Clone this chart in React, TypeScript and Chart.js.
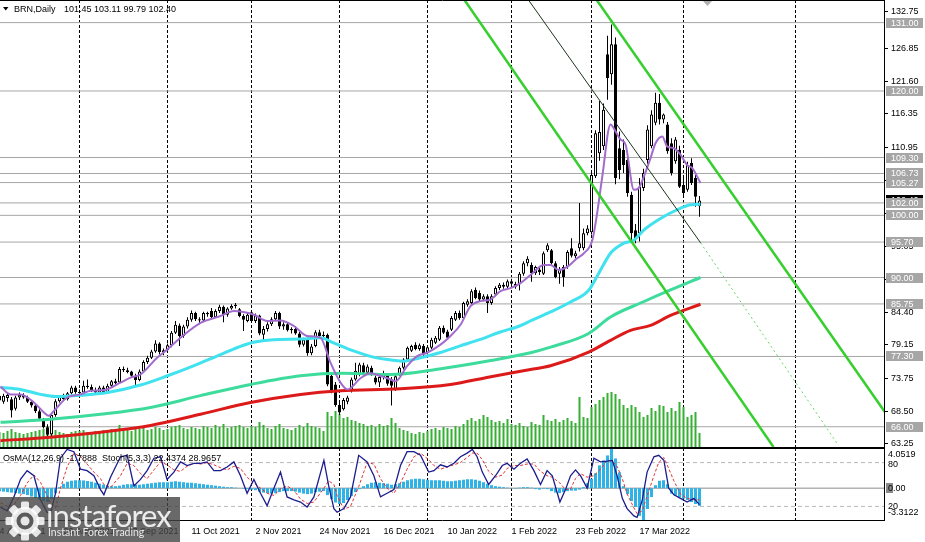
import React, { useEffect, useRef } from 'react';
import { Chart, registerables } from 'chart.js';

Chart.register(...registerables);

const FONT = '"Liberation Sans", Arial, sans-serif';

// ---------------- data ----------------
const symbol = 'BRN,Daily';
const lastQuote = [101.45, 103.11, 99.79, 102.4]; // O H L C of last bar
const firstBarIndex = 1; // bar index of 4 Aug 2021

const opens = [
  71.0, 70.0, 70.6, 70.4, 68.9, 70.7, 71.1, 70.7, 70.0, 69.4,
  68.5, 67.2, 65.9, 64.8, 67.9, 70.1, 70.9, 70.4, 71.4, 72.3,
  71.6, 71.5, 72.6, 72.4, 71.9, 71.5, 72.3, 71.6, 72.6, 73.3,
  73.1, 75.3, 75.1, 74.9, 74.2, 73.5, 74.9, 76.4, 77.1, 78.1,
  79.4, 78.0, 78.3, 79.1, 81.1, 82.3, 80.6, 82.1, 83.2, 84.3,
  83.3, 83.1, 84.3, 84.6, 83.6, 84.6, 85.3, 84.0, 85.0, 85.4,
  84.9, 83.8, 83.0, 84.4, 83.0, 83.9, 80.8, 81.7, 82.5, 83.3,
  84.3, 82.1, 82.5, 81.5, 81.7, 81.0, 79.2, 80.0, 77.8, 79.0,
  81.2, 80.6, 80.8, 74.2, 72.8, 69.5, 68.8, 70.0, 71.8, 73.6,
  74.4, 75.9, 74.7, 75.5, 73.9, 73.1, 74.0, 74.3, 73.6, 72.0,
  74.4, 75.5, 76.8, 78.2, 79.2, 78.5, 79.0, 77.9, 78.7, 79.5,
  80.0, 81.9, 81.3, 81.6, 83.2, 84.3, 83.5, 85.6, 85.9, 88.05,
  87.5, 86.45, 87.0, 85.9, 87.25, 88.3, 88.85, 88.5, 89.4, 89.0,
  88.9, 90.6, 92.3, 92.0, 90.7, 91.3, 90.6, 94.4, 94.4, 92.3,
  90.6, 91.7, 91.7, 94.7, 93.4, 94.7, 94.7, 97.1, 97.3, 106.3,
  110.0, 111.1, 125.9, 122.7, 127.5, 110.8, 110.5, 108.9, 103.3, 97.6,
  97.1, 104.4, 108.9, 111.1, 114.9, 118.1, 115.4, 114.6, 111.6, 108.7,
  110.5, 104.9, 104.1, 108.4, 106.0, 101.45,
];
const highs = [
  71.6, 71.3, 71.4, 70.8, 71.0, 71.5, 71.4, 71.0, 70.3, 69.8,
  68.8, 67.4, 66.4, 68.2, 70.4, 71.1, 71.3, 71.6, 72.6, 72.6,
  72.0, 73.4, 73.6, 72.8, 72.3, 72.6, 72.6, 72.9, 73.5, 73.7,
  75.6, 75.7, 75.5, 75.0, 74.5, 75.2, 76.7, 77.4, 78.4, 79.9,
  79.6, 78.6, 79.4, 81.4, 83.0, 82.6, 82.4, 83.6, 84.7, 84.5,
  83.6, 84.5, 84.5, 85.1, 84.9, 85.6, 85.5, 85.2, 85.7, 85.9,
  85.1, 84.1, 84.3, 84.7, 84.2, 84.0, 82.2, 82.8, 83.6, 84.6,
  84.5, 82.8, 82.7, 82.0, 82.2, 81.3, 80.3, 80.3, 79.3, 81.5,
  81.6, 81.3, 81.0, 74.8, 73.2, 70.0, 70.6, 71.0, 73.9, 76.3,
  76.3, 76.3, 76.0, 75.8, 74.2, 74.3, 75.0, 74.5, 74.0, 74.3,
  75.7, 77.0, 78.9, 79.2, 79.6, 79.4, 79.3, 79.1, 80.3, 80.6,
  82.2, 82.3, 81.6, 83.8, 84.6, 84.7, 86.1, 86.5, 88.1, 88.4,
  87.9, 87.3, 87.3, 87.3, 88.6, 89.1, 89.2, 89.7, 89.8, 89.3,
  90.9, 92.6, 93.4, 92.4, 91.9, 91.6, 94.2, 95.5, 94.6, 92.6,
  91.7, 92.0, 94.4, 96.3, 94.3, 102.0, 97.9, 98.4, 107.0, 113.7,
  118.4, 118.0, 128.9, 130.7, 128.6, 113.5, 112.2, 109.5, 103.8, 98.6,
  106.0, 107.5, 114.5, 116.9, 119.7, 119.5, 116.4, 115.0, 112.4, 112.6,
  111.2, 106.5, 108.6, 109.2, 106.5, 103.11,
];
const lows = [
  69.8, 69.7, 70.0, 67.5, 68.6, 70.3, 70.5, 69.8, 69.1, 68.2,
  67.0, 65.7, 64.3, 64.5, 67.6, 69.9, 70.1, 70.2, 71.2, 71.3,
  70.9, 71.3, 72.1, 71.6, 71.2, 71.2, 71.3, 71.5, 72.4, 72.8,
  72.9, 74.8, 74.6, 73.9, 72.4, 73.3, 74.7, 76.1, 76.9, 77.9,
  77.6, 77.5, 77.9, 78.8, 80.9, 79.0, 80.3, 81.8, 82.9, 83.0,
  82.5, 82.9, 83.7, 83.3, 83.5, 84.3, 82.8, 83.7, 84.8, 85.0,
  83.6, 81.4, 82.8, 82.8, 82.7, 80.7, 79.9, 81.3, 82.2, 83.0,
  81.7, 81.6, 81.3, 81.0, 80.8, 78.8, 78.9, 77.4, 77.5, 78.8,
  80.1, 80.0, 72.5, 71.4, 69.2, 67.9, 68.6, 69.6, 71.5, 73.4,
  74.1, 74.4, 74.5, 74.2, 72.8, 72.4, 73.6, 72.6, 69.4, 71.8,
  74.2, 75.2, 76.6, 78.0, 78.3, 78.2, 77.3, 77.6, 78.5, 79.3,
  79.8, 80.9, 80.0, 81.4, 83.0, 83.2, 83.3, 85.3, 85.7, 86.5,
  86.2, 86.2, 84.3, 85.6, 87.0, 88.0, 88.2, 88.3, 88.5, 88.2,
  87.9, 90.3, 91.8, 89.3, 90.4, 90.4, 90.4, 94.1, 92.1, 89.9,
  89.0, 88.5, 91.4, 93.2, 93.1, 94.2, 94.4, 96.8, 96.9, 106.0,
  108.8, 110.5, 118.6, 121.0, 105.0, 105.8, 106.8, 103.0, 96.0, 95.5,
  95.8, 103.9, 108.3, 110.8, 114.5, 114.6, 114.8, 109.9, 106.4, 108.3,
  104.4, 103.1, 103.8, 104.9, 101.4, 99.79,
];
const closes = [
  70.2, 71.0, 71.1, 68.6, 70.7, 71.1, 70.7, 70.0, 69.4, 68.5,
  67.3, 65.9, 64.7, 67.9, 70.1, 70.9, 70.4, 71.4, 72.3, 71.6,
  71.4, 72.6, 72.4, 71.9, 71.5, 72.3, 71.6, 72.6, 73.3, 73.0,
  75.3, 75.1, 74.8, 74.2, 73.5, 74.9, 76.4, 77.1, 78.1, 79.4,
  78.0, 78.3, 79.1, 81.1, 82.4, 80.6, 82.1, 83.2, 84.3, 83.3,
  83.1, 84.3, 84.1, 83.6, 84.6, 85.3, 84.0, 85.0, 85.4, 85.6,
  83.8, 83.2, 84.0, 83.0, 83.9, 81.0, 81.7, 82.5, 83.3, 84.3,
  82.1, 82.5, 81.5, 81.7, 81.0, 79.2, 80.0, 77.8, 78.9, 81.2,
  80.6, 80.8, 72.8, 71.8, 69.5, 68.3, 70.3, 70.7, 73.6, 75.0,
  76.0, 74.7, 75.7, 74.4, 73.1, 74.0, 74.6, 72.9, 72.6, 74.1,
  75.5, 76.8, 78.7, 79.0, 78.5, 79.1, 77.6, 78.8, 80.0, 80.3,
  81.9, 81.1, 80.3, 83.5, 84.3, 83.5, 85.9, 86.2, 87.8, 86.7,
  86.45, 87.0, 85.9, 87.0, 88.3, 88.85, 88.5, 89.4, 89.0, 88.5,
  90.6, 92.3, 93.0, 90.7, 91.7, 90.9, 93.9, 95.2, 92.3, 90.1,
  91.4, 90.1, 94.1, 93.5, 93.9, 95.5, 97.1, 97.9, 106.5, 113.2,
  113.4, 117.0, 122.1, 127.5, 106.0, 107.3, 108.1, 103.6, 97.1, 96.3,
  104.6, 106.8, 113.8, 116.2, 118.1, 115.4, 116.2, 110.3, 106.8, 112.2,
  104.6, 103.6, 108.1, 105.2, 103.0, 102.4,
];

// tick volume (thousands)
const volumes = [
  16, 15, 17, 19, 16, 15, 14, 15, 16, 17, 18, 19, 22, 21, 18, 16, 15, 14, 16, 17,
  17, 18, 16, 15, 17, 16, 18, 17, 19, 18, 23, 20, 18, 17, 21, 19, 20, 18, 19, 21, 20, 18, 19,
  21, 22, 23, 20, 19, 21, 20, 19, 22, 21, 20, 23, 21, 24, 20, 21, 22, 23, 21, 20, 22,
  21, 26, 23, 20, 19, 22, 24, 20, 19, 18, 20, 23, 21, 25, 22, 21, 20, 17,
  36, 32, 37, 34, 30, 31,
  28, 27, 25, 24, 22, 23, 21, 24, 22, 23, 30, 25, 20, 18, 17, 15, 14, 16, 15, 17,
  19, 20, 18, 21, 20, 19, 22, 21, 24, 28, 30, 27, 29, 33, 31, 28, 26, 27, 25, 29,
  24, 23, 25, 22, 21, 26, 24, 23, 33, 28, 27, 29, 26, 28, 30, 27, 25, 51, 31, 30,
  41, 44, 48, 51, 55, 56, 54, 49, 43, 40, 43, 41, 36, 31, 33, 40, 37, 43, 42, 36, 40, 37, 46, 41, 31, 33, 36, 15,
];

// OsMA(12,26,9) histogram, one value per bar
const osma = [
  -0.3, -0.35, -0.4, -0.45, -0.5, -0.55, -0.6, -0.7, -0.85, -1.0, -1.15, -1.3, -1.4, -1.1,
  -0.5, 0.1, 0.45, 0.65, 0.75, 0.8, 0.8, 0.78, 0.72, 0.65, 0.55, 0.45, 0.35, 0.25, 0.2, 0.2,
  0.25, 0.35, 0.4, 0.4, 0.35, 0.35, 0.4, 0.45, 0.5, 0.55, 0.6, 0.6, 0.6, 0.65, 0.7, 0.65, 0.6, 0.55,
  0.55, 0.5, 0.45, 0.4, 0.35, 0.3, 0.25, 0.2, 0.15, 0.1, 0.1, 0.05,
  0.0, -0.05, -0.1, -0.15, -0.2, -0.35, -0.45, -0.5, -0.55, -0.5, -0.4, -0.3, -0.3, -0.3, -0.35, -0.45, -0.55, -0.6,
  -0.55, -0.4, -0.35, -0.3, -0.7, -1.1, -1.45, -1.6, -1.5, -1.2, -0.8, -0.4,
  -0.1, 0.2, 0.4, 0.55, 0.6, 0.55, 0.5, 0.45, 0.35, 0.4, 0.5, 0.65, 0.8, 0.9, 0.95, 0.95, 0.9, 0.85,
  0.8, 0.8, 0.8, 0.75, 0.7, 0.7, 0.75, 0.8, 0.85, 0.9, 0.9, 0.85, 0.75, 0.6, 0.45, 0.3, 0.2, 0.15,
  0.1, 0.05, 0.02, -0.05, 0.05, 0.1, 0.1, 0.05, -0.1, -0.15, -0.05, -0.1, -0.3, -0.45, -0.5, -0.4, -0.3, -0.25,
  -0.25, -0.15, 0.1, 0.5, 0.95, 1.5, 2.3, 2.8, 3.3, 4.0519, 3.0, 1.6, 0.2, -0.6, -1.3, -1.9, -2.8, -3.3122,
  -2.1, -0.9, 0.3, 0.75, 0.8, 0.4, -0.55, -0.75, -0.92, -1.05, -1.2, -1.4, -1.6, -1.7888,
];

// Stochastic(5,3,3): [bar index, value]
const stochMain: [number, number][] = [
  [1.25, 19], [2.9, 14], [4.6, 33], [6.25, 57], [7.9, 69], [9.6, 62], [11.25, 29], [12.9, 12], [13.75, 10], [15, 38],
  [16.25, 86], [17.9, 98], [19.6, 95], [21.25, 71], [22.9, 69], [24.6, 62], [26.25, 43], [27.1, 36], [28.75, 60], [31.25, 88],
  [32.9, 90], [34.6, 48], [36.25, 57], [37.9, 69], [39.6, 86], [41.25, 88], [42.9, 57], [44.6, 67], [46.25, 81], [47.9, 76],
  [49.6, 79], [51.25, 79], [52.9, 81], [54.6, 69], [56.25, 69], [57.9, 74], [59.6, 81], [61.25, 62], [62.9, 38], [64.6, 57],
  [66.25, 38], [67.9, 21], [69.6, 45], [71.25, 67], [72.9, 33], [74.6, 29], [76.25, 26], [77.9, 19], [79.6, 33], [82.1, 83],
  [83.3, 48], [84.6, 17], [85.4, 12], [87.1, 17], [88.75, 33], [90.8, 90], [92.9, 81], [94.6, 62], [96.25, 33], [97.9, 38],
  [99.6, 43], [101.25, 76], [102.9, 95], [104.6, 95], [106.25, 90], [108.3, 67], [109.6, 69], [111.25, 77], [112.9, 74], [114.6, 79],
  [116.25, 88], [117.9, 93], [119.2, 98], [120.4, 88], [121.7, 67], [123.3, 50], [125, 62], [126.7, 76], [127.9, 79], [129.6, 71],
  [131.25, 79], [132.9, 85], [134.6, 69], [136.25, 50], [137.9, 69], [139.2, 62], [141.1, 26], [142.5, 43], [143.75, 62], [145, 70],
  [146.25, 62], [147.9, 45], [149.6, 86], [151.25, 81], [152.9, 82], [154.2, 83], [155.4, 62], [156.7, 31], [157.9, 17], [159.6, 7],
  [160.4, 5], [161.7, 29], [162.9, 67], [164.6, 88], [165.8, 90], [167.1, 83], [168.3, 45], [169.6, 36], [171.25, 31], [172.9, 26],
  [174.6, 31], [176, 22.4374],
];
const stochSignal: [number, number][] = [
  [1.25, 25], [2.9, 20], [4.6, 22], [6.25, 35], [7.9, 52], [9.6, 63], [11.25, 53], [12.9, 35], [13.75, 25], [15, 18],
  [16.25, 45], [17.9, 74], [19.6, 93], [21.25, 88], [22.9, 78], [24.6, 67], [26.25, 58], [27.1, 50], [28.75, 46], [31.25, 62],
  [32.9, 79], [34.6, 76], [36.25, 65], [37.9, 58], [39.6, 70], [41.25, 81], [42.9, 77], [44.6, 70], [46.25, 68], [47.9, 75],
  [49.6, 79], [51.25, 78], [52.9, 80], [54.6, 77], [56.25, 73], [57.9, 70], [59.6, 75], [61.25, 72], [62.9, 60], [64.6, 52],
  [66.25, 45], [67.9, 38], [69.6, 35], [71.25, 44], [72.9, 48], [74.6, 42], [76.25, 30], [77.9, 24], [79.6, 26], [82.1, 45],
  [83.3, 55], [84.6, 50], [85.4, 35], [87.1, 16], [88.75, 20], [90.8, 47], [92.9, 80], [94.6, 78], [96.25, 58], [97.9, 45],
  [99.6, 38], [101.25, 52], [102.9, 71], [104.6, 88], [106.25, 93], [108.3, 84], [109.6, 76], [111.25, 71], [112.9, 74], [114.6, 77],
  [116.25, 80], [117.9, 87], [119.2, 93], [120.4, 93], [121.7, 84], [123.3, 68], [125, 60], [126.7, 63], [127.9, 72], [129.6, 76],
  [131.25, 76], [132.9, 78], [134.6, 78], [136.25, 68], [137.9, 62], [139.2, 60], [141.1, 52], [142.5, 43], [143.75, 44], [145, 58],
  [146.25, 65], [147.9, 60], [149.6, 62], [151.25, 71], [152.9, 83], [154.2, 82], [155.4, 75], [156.7, 58], [157.9, 37], [159.6, 18],
  [160.4, 10], [161.7, 14], [162.9, 34], [164.6, 62], [165.8, 80], [167.1, 87], [168.3, 72], [169.6, 55], [171.25, 37], [172.9, 31],
  [174.6, 29], [176, 28.9657],
];
const stochLevels = [80, 20];

// moving averages: [bar index, price]
const maPurple: [number, number][] = [
  [1.25, 72.45], [3.75, 71.2], [6.25, 71.2], [9.6, 69.9], [12.1, 68.3], [13.3, 67.75], [14.6, 68.55], [17.9, 70.7],
  [21.25, 71.2], [23.75, 71.8], [27.1, 71.9], [31.25, 73.1], [33.75, 73.9], [36.25, 74.4], [40.4, 77.1], [42.9, 78.4],
  [46.25, 80.3], [51.25, 82.7], [56.25, 83.8], [59.6, 84.6], [64.6, 84.0], [67.9, 83.0], [71.25, 83.1], [74.6, 82.2],
  [77.9, 80.6], [81.25, 80.3], [83.75, 76.3], [86.25, 73.1], [88, 72.0], [91.25, 73.8], [93.75, 74.6], [96.25, 74.15],
  [98.75, 73.6], [100, 73.3], [102.9, 75.75], [105.4, 77.35], [107.9, 77.9], [111.25, 79.2], [113.75, 80.6], [116.25, 82.4],
  [118.75, 85.4], [121.25, 86.2], [123.75, 86.45], [126.25, 87.8], [128.75, 88.3], [131.25, 89.1], [133.75, 90.4], [137.1, 92.0],
  [138.75, 92.0], [140.8, 91.2], [142.9, 91.7], [145.4, 93.1], [147.1, 93.9], [149.2, 96.0], [150.4, 100.3], [151.7, 106.25],
  [153.75, 114.6], [155, 113.5], [156.25, 112.2], [157.5, 111.4], [159.6, 104.1], [160.8, 104.4], [162.1, 106.25], [163.75, 109.2],
  [165, 111.6], [166.7, 112.7], [167.9, 111.1], [169.6, 110.8], [171.25, 109.75], [172.9, 108.1], [174.2, 107.6], [176.25, 105.2],
];
const maCyan: [number, number][] = [
  [1.25, 72.3], [6.25, 72.0], [11.25, 71.2], [15, 70.85], [21.25, 71.05], [28, 71.5], [36.25, 72.7], [43, 74.2],
  [49.5, 75.8], [56.25, 77.6], [62, 79.1], [64.5, 79.6], [69.5, 80.0], [76.25, 80.1], [81.25, 80.3], [84.5, 79.5],
  [89.5, 78.2], [94.5, 77.2], [99.5, 76.7], [102, 76.55], [106, 77.05], [111, 77.9], [116, 78.96], [121, 80.0],
  [126, 81.2], [131, 82.2], [134, 83.1], [138.75, 84.46], [143.75, 86.07], [148.3, 87.95], [150.75, 90.6], [153.75, 93.9],
  [157, 95.5], [159.6, 96.0], [162, 97.6], [166.25, 99.5], [170.4, 100.9], [173.75, 101.7], [176.25, 101.8],
];
const maGreen: [number, number][] = [
  [1.25, 66.7], [13.75, 67.2], [26.25, 68.0], [38.75, 69.1], [51.25, 71.0], [63.75, 72.8], [76.25, 74.2], [87, 74.6],
  [98.5, 74.4], [111, 75.3], [123.5, 76.6], [133.75, 77.9], [138.75, 78.8], [148.3, 81.0], [153.75, 83.65], [162, 86.1],
  [168.75, 88.0], [176.25, 90.0],
];
const maRed: [number, number][] = [
  [1.25, 63.75], [13.75, 64.3], [26.25, 65.1], [38.75, 66.2], [51.25, 68.0], [63.75, 69.9], [76.25, 71.2], [86.25, 71.8],
  [101.25, 72.1], [113.75, 72.8], [123.5, 74.0], [133.75, 75.2], [138.75, 75.8], [148.3, 78.0], [153.75, 79.9], [158.75, 81.5],
  [163.75, 82.3], [168.75, 83.9], [176.25, 85.7],
];

// horizontal levels and trend/channel lines
const levels = [131.0, 120.0, 109.3, 106.73, 105.27, 102.0, 100.0, 95.7, 90.0, 85.75, 77.3, 66.0];
const channelUpper: [number, number][] = [[150.3, 134.64], [222.3, 68.4]];
const channelLower: [number, number][] = [[117.25, 134.64], [194.5, 62.74]];
const trendThin: [number, number][] = [[133.25, 134.64], [176.25, 95.6]];
const trendDotted: [number, number][] = [[176.25, 95.6], [210.75, 63.0]];

// axis data
const monthStarts = [21, 43, 64, 86, 108, 129, 149, 172, 200];
const dateLabelIdx = [1, 17, 33, 49, 65, 81, 97, 113, 129, 145, 161];
const dateLabelText = [
  '4 Aug 2021', '26 Aug 2021', '17 Sep 2021', '11 Oct 2021', '2 Nov 2021', '24 Nov 2021',
  '16 Dec 2021', '10 Jan 2022', '1 Feb 2022', '23 Feb 2022', '17 Mar 2022',
];
const priceTicks = [63.25, 68.5, 73.75, 79.15, 84.4, 89.65, 95.05, 100.3, 105.55, 110.95, 116.35, 121.6, 126.85, 132.75];
const shiftMarkerIndex = 178;

const X_MIN = 1.125;
const X_MAX = 222.125;
const Y_MIN = 62.577;
const Y_MAX = 134.637;
const VOL_AXIS_MAX = 448;

// ---------------- helpers ----------------
const pts = (arr: [number, number][]) => arr.map(([x, y]) => ({ x, y }));
const barX = (k: number) => k + firstBarIndex;

const mainDecor = {
  id: 'mainDecor',
  afterDraw(chart: any) {
    const { ctx, chartArea: ca } = chart;
    const y = chart.scales.y;
    const x = chart.scales.x;
    ctx.save();
    ctx.strokeStyle = '#000';
    ctx.lineWidth = 1;
    ctx.beginPath();
    ctx.moveTo(ca.left, ca.top + 0.5);
    ctx.lineTo(ca.right + 1, ca.top + 0.5);
    ctx.moveTo(ca.left, ca.bottom - 0.5);
    ctx.lineTo(ca.right + 1, ca.bottom - 0.5);
    ctx.stroke();

    // chart shift marker
    const sx = x.getPixelForValue(shiftMarkerIndex);
    ctx.fillStyle = '#b0b0b0';
    ctx.beginPath();
    ctx.moveTo(sx - 4.5, 1);
    ctx.lineTo(sx + 4.5, 1);
    ctx.lineTo(sx, 6);
    ctx.closePath();
    ctx.fill();

    // header
    ctx.fillStyle = '#000';
    ctx.beginPath();
    ctx.moveTo(3, 7);
    ctx.lineTo(8.5, 7);
    ctx.lineTo(5.75, 10.5);
    ctx.closePath();
    ctx.fill();
    ctx.font = `9px ${FONT}`;
    ctx.textAlign = 'left';
    ctx.textBaseline = 'alphabetic';
    ctx.fillText(symbol, 14, 12);
    ctx.fillText(lastQuote.map((v) => v.toFixed(2)).join(' '), 64, 12);

    // price boxes
    ctx.textBaseline = 'middle';
    const box = (val: number, bg: string) => {
      const py = Math.round(y.getPixelForValue(val));
      ctx.fillStyle = bg;
      ctx.fillRect(ca.right + 2, py - 5, 37, 10);
      ctx.fillStyle = '#fff';
      ctx.fillText(val.toFixed(2), ca.right + 7, py + 0.5);
    };
    box(lastQuote[3], '#000');
    levels.forEach((l) => box(l, '#a6a6a6'));
    ctx.restore();
  },
};

const oscDecor = {
  id: 'oscDecor',
  afterDraw(chart: any) {
    const { ctx, chartArea: ca } = chart;
    const ys = chart.scales.ys;
    const yo = chart.scales.yo;
    ctx.save();
    ctx.strokeStyle = '#000';
    ctx.lineWidth = 1;
    ctx.beginPath();
    ctx.moveTo(ca.left, ca.top + 0.5);
    ctx.lineTo(ca.right + 1, ca.top + 0.5);
    ctx.moveTo(ca.left, ca.bottom - 0.5);
    ctx.lineTo(ca.right + 1, ca.bottom - 0.5);
    ctx.moveTo(ca.right + 0.5, ca.top);
    ctx.lineTo(ca.right + 0.5, ca.bottom);
    ctx.stroke();

    ctx.font = `9px ${FONT}`;
    ctx.textAlign = 'left';
    ctx.textBaseline = 'middle';
    const tx = ca.right + 4;
    const oMax = Math.max(...osma);
    const oMin = Math.min(...osma);
    ctx.fillStyle = '#000';
    ctx.fillText(oMax.toFixed(4), tx, ca.top + 7);
    ctx.fillText(String(stochLevels[0]), tx, ys.getPixelForValue(stochLevels[0]) + 1.5);
    const zy = Math.round(yo.getPixelForValue(0));
    ctx.fillStyle = '#8a8a8a';
    ctx.fillRect(ca.right + 2, zy - 5, 7, 10);
    ctx.fillStyle = '#000';
    ctx.fillText('0.00', tx, zy + 0.5);
    ctx.fillText(String(stochLevels[1]), tx, ys.getPixelForValue(stochLevels[1]));
    ctx.fillText(oMin.toFixed(4), tx, ca.bottom - 8);

    ctx.textBaseline = 'alphabetic';
    const lastO = osma[osma.length - 1];
    const lastM = stochMain[stochMain.length - 1][1];
    const lastS = stochSignal[stochSignal.length - 1][1];
    ctx.fillText(
      `OsMA(12,26,9) ${lastO.toFixed(4)}  Stoch(5,3,3) ${lastM.toFixed(4)} ${lastS.toFixed(4)}`,
      3,
      ca.top + 13
    );
    ctx.restore();
  },
};

function Logo() {
  const teeth = [0, 45, 90, 135, 180, 225, 270, 315];
  return (
    <div
      style={{
        position: 'absolute',
        left: 0,
        top: 497,
        width: 180,
        height: 45,
        background: 'rgba(68,68,68,0.8)',
        overflow: 'hidden',
      }}
    >
      <svg width={46} height={46} style={{ position: 'absolute', left: 2, top: 0 }}>
        <g transform="translate(23,24)" fill="rgba(255,255,255,0.85)">
          {teeth.map((a) => (
            <rect key={a} x={-4} y={-19.5} width={8} height={8} rx={1.5} transform={`rotate(${a})`} />
          ))}
          <circle r={14} />
          <circle r={8.5} fill="rgb(90,90,90)" />
          <circle r={4.5} />
        </g>
      </svg>
      <div
        style={{
          position: 'absolute',
          left: 46,
          top: 3,
          fontFamily: 'Lato, "Open Sans", sans-serif',
          fontSize: 31,
          lineHeight: '31px',
          letterSpacing: -1,
          color: 'rgba(255,255,255,0.88)',
          whiteSpace: 'nowrap',
        }}
      >
        instaforex
      </div>
      <div
        style={{
          position: 'absolute',
          left: 48,
          top: 29,
          fontFamily: 'Lato, "Open Sans", sans-serif',
          fontSize: 10.5,
          lineHeight: '12px',
          color: 'rgba(255,255,255,0.85)',
          whiteSpace: 'nowrap',
        }}
      >
        Instant Forex Trading
      </div>
    </div>
  );
}

export default function App() {
  const mainRef = useRef<HTMLCanvasElement>(null);
  const oscRef = useRef<HTMLCanvasElement>(null);

  useEffect(() => {
    Chart.defaults.font.family = FONT;

    const lineDs = (data: [number, number][], color: string, width: number, order: number, extra: any = {}) => ({
      type: 'line',
      data: pts(data),
      borderColor: color,
      borderWidth: width,
      pointRadius: 0,
      fill: false,
      order,
      ...extra,
    });

    const mainDatasets: any[] = [
      ...levels.map((l) => ({
        type: 'line',
        data: [{ x: X_MIN, y: l }, { x: X_MAX, y: l }],
        borderColor: '#a6a6a6',
        borderWidth: 1,
        pointRadius: 0,
        order: 30,
      })),
      {
        type: 'bar',
        yAxisID: 'yv',
        data: volumes.map((v, k) => ({ x: barX(k), y: v })),
        backgroundColor: '#35b035',
        borderWidth: 0,
        barThickness: 2,
        grouped: false,
        inflateAmount: 0,
        order: 25,
      },
      {
        type: 'bar',
        data: highs.map((h, k) => ({ x: barX(k), y: [lows[k], h] })),
        backgroundColor: '#000',
        barThickness: 1,
        grouped: false,
        inflateAmount: 0,
        order: 20,
      },
      {
        type: 'bar',
        data: opens.map((o, k) => ({ x: barX(k), y: [o, closes[k]] })),
        backgroundColor: opens.map((o, k) => (closes[k] >= o ? '#ffffff' : '#000000')),
        borderColor: '#000',
        borderWidth: 1,
        borderSkipped: false,
        barThickness: 3,
        grouped: false,
        inflateAmount: 0,
        order: 19,
      },
      lineDs(maRed, '#dd1a1a', 3, 15, { cubicInterpolationMode: 'monotone' }),
      lineDs(maGreen, '#3ddc9c', 3, 14, { cubicInterpolationMode: 'monotone' }),
      lineDs(maCyan, '#3fe2ee', 3, 13, { cubicInterpolationMode: 'monotone' }),
      lineDs(maPurple, '#a26ccc', 2, 12, { cubicInterpolationMode: 'monotone' }),
      lineDs(trendDotted, '#63d663', 1, 4, { borderDash: [2, 3] }),
      lineDs(trendThin, '#1d331d', 1, 3),
      lineDs(channelUpper, '#36cf2e', 2.5, 2),
      lineDs(channelLower, '#36cf2e', 2.5, 2),
    ];

    const main = new Chart(mainRef.current as HTMLCanvasElement, {
      type: 'bar',
      data: { datasets: mainDatasets },
      options: {
        responsive: false,
        animation: false,
        events: [],
        layout: { padding: { left: 0, right: 0, top: 0, bottom: 2 } },
        plugins: { legend: { display: false }, tooltip: { enabled: false } },
        scales: {
          x: {
            type: 'linear',
            min: X_MIN,
            max: X_MAX,
            offset: false,
            afterBuildTicks: (s: any) => {
              s.ticks = monthStarts.map((v) => ({ value: v }));
            },
            afterFit: (s: any) => {
              s.height = 0;
              s.paddingLeft = 0;
              s.paddingRight = 0;
            },
            ticks: { display: false },
            grid: { offset: false, drawTicks: false, color: '#000', lineWidth: 1 },
            border: { display: false, dash: [3, 2] },
          },
          y: {
            type: 'linear',
            position: 'right',
            min: Y_MIN,
            max: Y_MAX,
            afterBuildTicks: (s: any) => {
              s.ticks = priceTicks.map((v) => ({ value: v }));
            },
            afterFit: (s: any) => {
              s.width = 41;
              s.paddingTop = 0;
              s.paddingBottom = 0;
            },
            ticks: {
              autoSkip: false,
              padding: 3,
              color: '#000',
              font: { size: 9, family: FONT },
              callback: (v: any) => Number(v).toFixed(2),
            },
            grid: { drawOnChartArea: false, drawTicks: true, tickLength: 4, color: '#000' },
            border: { display: true, color: '#000' },
          },
          yv: { type: 'linear', display: false, min: 0, max: VOL_AXIS_MAX },
        },
      } as any,
      plugins: [mainDecor],
    } as any);

    const oscTicks = Array.from(new Set([...monthStarts, ...dateLabelIdx])).sort((a, b) => a - b);
    const oMax = Math.max(...osma);
    const oMin = Math.min(...osma);

    const oscDatasets: any[] = [
      ...stochLevels.map((l) => ({
        type: 'line',
        yAxisID: 'ys',
        data: [{ x: X_MIN, y: l }, { x: X_MAX, y: l }],
        borderColor: '#b8b8b8',
        borderWidth: 1,
        borderDash: [4, 3],
        pointRadius: 0,
        order: 30,
      })),
      {
        type: 'line',
        yAxisID: 'yo',
        data: [{ x: X_MIN, y: 0 }, { x: X_MAX, y: 0 }],
        borderColor: '#8c8c8c',
        borderWidth: 1,
        pointRadius: 0,
        order: 29,
      },
      {
        type: 'bar',
        yAxisID: 'yo',
        data: osma.map((v, k) => ({ x: barX(k), y: v })),
        backgroundColor: '#2fb3e6',
        barThickness: 3,
        grouped: false,
        inflateAmount: 0,
        order: 20,
      },
      { ...lineDs(stochSignal, '#e23232', 1, 3, { borderDash: [3, 2] }), yAxisID: 'ys' },
      { ...lineDs(stochMain, '#1c1c8e', 1.3, 2), yAxisID: 'ys' },
    ];

    const osc = new Chart(oscRef.current as HTMLCanvasElement, {
      type: 'bar',
      data: { datasets: oscDatasets },
      options: {
        responsive: false,
        animation: false,
        events: [],
        layout: { padding: { left: 0, right: 41, top: 0, bottom: 0 } },
        plugins: { legend: { display: false }, tooltip: { enabled: false } },
        scales: {
          x: {
            type: 'linear',
            min: X_MIN,
            max: X_MAX,
            offset: false,
            afterBuildTicks: (s: any) => {
              s.ticks = oscTicks.map((v) => ({ value: v }));
            },
            afterFit: (s: any) => {
              s.height = 21;
              s.paddingLeft = 0;
              s.paddingRight = 0;
            },
            ticks: {
              autoSkip: false,
              maxRotation: 0,
              minRotation: 0,
              align: 'start',
              padding: 5,
              color: '#000',
              font: { size: 9, family: FONT },
              callback: (v: any) => {
                const k = dateLabelIdx.indexOf(Number(v));
                return k >= 0 ? dateLabelText[k] : '';
              },
            },
            grid: {
              offset: false,
              drawTicks: false,
              lineWidth: 1,
              color: (c: any) => (c.tick && monthStarts.includes(c.tick.value) ? '#000' : 'rgba(0,0,0,0)'),
            },
            border: { display: false, dash: [3, 2] },
          },
          yo: { type: 'linear', display: false, min: oMin, max: oMax },
          ys: { type: 'linear', display: false, min: 0, max: 100 },
        },
      } as any,
      plugins: [oscDecor],
    } as any);

    return () => {
      main.destroy();
      osc.destroy();
    };
  }, []);

  return (
    <div
      style={{
        position: 'fixed',
        left: 0,
        top: 0,
        width: 925,
        height: 542,
        background: '#fff',
        overflow: 'hidden',
      }}
    >
      <canvas ref={mainRef} width={925} height={450} style={{ position: 'absolute', left: 0, top: 0 }} />
      <canvas ref={oscRef} width={925} height={94} style={{ position: 'absolute', left: 0, top: 448 }} />
      <Logo />
    </div>
  );
}
